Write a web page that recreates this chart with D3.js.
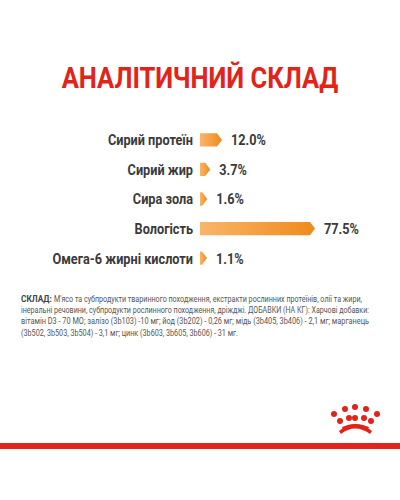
<!DOCTYPE html>
<html><head><meta charset="utf-8">
<script src="https://cdn.jsdelivr.net/npm/d3@7"></script>
<style>body{margin:0;background:#fff}svg{display:block}</style>
</head><body>
<div id="chart"></div>
<script>
const categories = ['Сирий протеїн', 'Сирий жир', 'Сира зола', 'Вологість', 'Омега-6 жирні кислоти'];
const values = [12.0, 3.7, 1.6, 77.5, 1.1];
const labels = ['12.0%', '3.7%', '1.6%', '77.5%', '1.1%'];

const svg = d3.select('#chart').append('svg').attr('width', 400).attr('height', 500);

const defs = svg.append('defs');
const grad = defs.append('linearGradient').attr('id', 'g');
grad.append('stop').attr('offset', '0%').attr('stop-color', '#f9b56a');
grad.append('stop').attr('offset', '100%').attr('stop-color', '#ef8a1c');

svg.append('text').attr('text-anchor', 'middle')
    .attr('fill', '#e2231a').attr('font-family', 'Roboto').attr('font-weight', 'bold')
    .attr('font-size', 29).attr('transform', 'translate(200,88) scale(0.88,1)')
    .text('АНАЛІТИЧНИЙ СКЛАД');

const x = d3.scaleLinear().domain([0, 77.5]).range([0, 110]);
const y = d3.scaleBand().domain(categories).range([117, 281]).padding(0.55);
const h = y.bandwidth();
const sx = 0.82;

const rows = svg.append('g').selectAll('g').data(categories).join('g')
    .attr('transform', d => `translate(0,${y(d)})`);

rows.append('path')
    .attr('fill', 'url(#g)')
    .attr('d', (d, i) => {
        const w = Math.max(2, x(values[i]));
        return `M200,0H${200 + w}L${200 + w + 5},${h / 2}L${200 + w},${h}H200Z`;
    });

rows.append('text').attr('transform', `translate(193,${h / 2}) scale(${sx},1)`).attr('dy', '0.35em')
    .attr('text-anchor', 'end')
    .attr('font-family', 'Roboto').attr('font-weight', 'bold').attr('font-size', 15.5).attr('fill', '#3a3a3a')
    .text(d => d);

rows.append('text')
    .attr('transform', (d, i) => `translate(${200 + Math.max(2, x(values[i])) + 14},${h / 2}) scale(${sx},1)`)
    .attr('dy', '0.35em')
    .attr('font-family', 'Roboto').attr('font-weight', 'bold').attr('font-size', 15.5).attr('fill', '#3a3a3a')
    .text((d, i) => labels[i]);

const composition = [
    ['СКЛАД: ', 'М\'ясо та субпродукти тваринного походження, екстракти рослинних протеїнів, олії та жири,'],
    ['', 'інеральні речовини, субпродукти рослинного походження, дріжджі. ДОБАВКИ (НА КГ): Харчові добавки:'],
    ['', 'вітамін D3 - 70 МО; залізо (3b103) -10 мг; йод (3b202) - 0,26 мг; мідь (3b405, 3b406) - 2,1 мг; марганець'],
    ['', '(3b502, 3b503, 3b504) - 3,1 мг; цинк (3b603, 3b605, 3b606) - 31 мг.']
];
const lineLengths = [341, 348, 348, 217];
const txt = svg.append('g').attr('font-family', 'Roboto').attr('fill', '#555').attr('font-size', 8.2);
composition.forEach((l, i) => {
    const t = txt.append('text').attr('x', 21).attr('y', 302 + i * 11.2)
        .attr('textLength', lineLengths[i]).attr('lengthAdjust', 'spacingAndGlyphs');
    if (l[0]) t.append('tspan').attr('font-weight', 'bold').attr('font-size', 9.5).attr('fill', '#444').text(l[0]);
    t.append('tspan').text(l[1]);
});

// crown logo
const crown = svg.append('g').attr('fill', '#e2231a');
const dots = [[334, 414], [345, 409], [355, 407], [366, 409], [377, 414],
              [340, 421], [349, 418], [355, 418], [364, 418], [371, 421]];
crown.selectAll('circle').data(dots).join('circle').attr('cx', d => d[0]).attr('cy', d => d[1]).attr('r', 3);
crown.append('path').attr('d', 'M339,431 Q355,417 372,431 L370,434 Q355,423 341,434Z');
crown.append('path').attr('d', 'M342,427 Q355,421 369,427 L368,429 Q355,424 343,429Z');

svg.append('rect').attr('x', 0).attr('y', 443).attr('width', 400).attr('height', 6).attr('fill', '#e2231a');
</script>
</body></html>
